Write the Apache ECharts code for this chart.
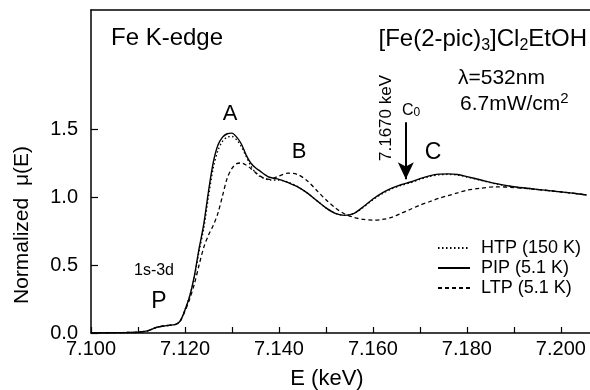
<!doctype html>
<html lang="en">
<head>
<meta charset="UTF-8">
<script src="https://cdn.jsdelivr.net/npm/echarts@6/dist/echarts.min.js"></script>
<title>Fe K-edge XANES</title>
</head>
<body style="margin:0">
<div id="main" style="width:590px;height:390px;"></div>
<script>
// energies (keV)
var energy = [7.100, 7.104, 7.108, 7.110, 7.112, 7.114, 7.116, 7.118, 7.119, 7.120,
  7.121, 7.122, 7.123, 7.124, 7.125, 7.126, 7.127, 7.128, 7.129, 7.130,
  7.131, 7.132, 7.133, 7.134, 7.135, 7.136, 7.137, 7.138, 7.140, 7.142,
  7.144, 7.146, 7.148, 7.150, 7.152, 7.154, 7.156, 7.158, 7.160, 7.162,
  7.164, 7.166, 7.168, 7.170, 7.172, 7.174, 7.176, 7.178, 7.180, 7.183,
  7.186, 7.190, 7.194, 7.198, 7.202, 7.2055];
var htp = [0.000, 0.002, 0.004, 0.006, 0.016, 0.042, 0.054, 0.064, 0.09, 0.17,
  0.27, 0.41, 0.60, 0.77, 1.00, 1.21, 1.34, 1.41, 1.44, 1.445,
  1.42, 1.37, 1.30, 1.23, 1.18, 1.15, 1.135, 1.125, 1.125, 1.108,
  1.076, 1.03, 0.975, 0.92, 0.88, 0.865, 0.88, 0.925, 0.98, 1.025,
  1.06, 1.085, 1.105, 1.13, 1.15, 1.163, 1.166, 1.161, 1.147, 1.122,
  1.098, 1.074, 1.058, 1.044, 1.029, 1.015];
var pip = [0.000, 0.002, 0.004, 0.006, 0.016, 0.042, 0.054, 0.064, 0.09, 0.17,
  0.27, 0.42, 0.62, 0.80, 1.04, 1.25, 1.38, 1.44, 1.465, 1.47,
  1.44, 1.39, 1.31, 1.25, 1.215, 1.19, 1.165, 1.145, 1.13, 1.105,
  1.075, 1.03, 0.975, 0.92, 0.88, 0.865, 0.88, 0.93, 0.985, 1.03,
  1.065, 1.09, 1.11, 1.135, 1.155, 1.168, 1.17, 1.165, 1.15, 1.125,
  1.10, 1.075, 1.06, 1.045, 1.03, 1.015];
var ltp = [0.000, 0.002, 0.004, 0.006, 0.016, 0.042, 0.054, 0.064, 0.09, 0.16,
  0.25, 0.36, 0.50, 0.63, 0.72, 0.79, 0.88, 1.01, 1.14, 1.21,
  1.245, 1.25, 1.235, 1.21, 1.18, 1.155, 1.135, 1.13, 1.155, 1.175,
  1.165, 1.12, 1.05, 0.98, 0.92, 0.875, 0.85, 0.835, 0.83, 0.835,
  0.85, 0.88, 0.91, 0.94, 0.965, 0.99, 1.01, 1.03, 1.05, 1.065,
  1.075, 1.07, 1.058, 1.045, 1.03, 1.015];

var xTicks = [7.10, 7.11, 7.12, 7.13, 7.14, 7.15, 7.16, 7.17, 7.18, 7.19, 7.20];
var xLabels = [7.10, 7.12, 7.14, 7.16, 7.18, 7.20];
var yTicks = [0, 0.5, 1.0, 1.5];
var seriesNames = ['HTP (150 K)', 'PIP (5.1 K)', 'LTP (5.1 K)'];

function pairs(vals) {
  var out = [];
  for (var i = 0; i < energy.length; i++) out.push([energy[i], vals[i]]);
  return out;
}

var font = '"Liberation Sans", Arial, sans-serif';
var myChart = echarts.init(document.getElementById('main'));

function txt(x, y, text, size, extra) {
  var s = {text: text, font: size + 'px ' + font, fill: '#000', align: 'center', verticalAlign: 'middle'};
  if (extra) for (var k in extra) s[k] = extra[k];
  return {type: 'text', x: x, y: y, style: s, silent: true};
}

var option = {
  animation: false,
  backgroundColor: '#fff',
  textStyle: {fontFamily: font, color: '#000'},
  grid: {left: 91, right: 0, top: 10, bottom: 57},
  legend: {
    data: seriesNames,
    orient: 'vertical',
    left: 432,
    top: 234,
    itemWidth: 32,
    itemHeight: 14,
    itemGap: 2,
    itemStyle: {opacity: 0},
    textStyle: {fontSize: 18, color: '#000', padding: [0, 0, 0, 6]}
  },
  xAxis: [{
    type: 'value',
    min: 7.1,
    max: 7.2062,
    position: 'bottom',
    axisLine: {lineStyle: {color: '#000', width: 1.5}},
    axisTick: {inside: true, length: 6, customValues: xTicks, lineStyle: {color: '#000', width: 1.2}},
    axisLabel: {customValues: xLabels, fontSize: 20, color: '#000', margin: 6,
      formatter: function (v) { return v.toFixed(3); }},
    splitLine: {show: false}
  }, {
    type: 'value',
    min: 7.1,
    max: 7.2062,
    position: 'top',
    axisLine: {lineStyle: {color: '#000', width: 1.5}},
    axisTick: {show: false},
    axisLabel: {show: false},
    splitLine: {show: false}
  }],
  yAxis: {
    type: 'value',
    min: 0,
    max: 2.375,
    axisLine: {show: true, lineStyle: {color: '#000', width: 1.5}},
    axisTick: {show: true, inside: true, length: 7, customValues: yTicks, lineStyle: {color: '#000', width: 1.2}},
    axisLabel: {customValues: yTicks, fontSize: 20, color: '#000', margin: 13,
      padding: [0, 0, 13, 0],
      formatter: function (v) { return v.toFixed(1); }},
    splitLine: {show: false}
  },
  series: [{
    name: seriesNames[0],
    type: 'line',
    data: pairs(htp),
    smooth: 0.3,
    symbol: 'none',
    lineStyle: {color: '#000', width: 1.3, type: [1.5, 2.5]},
    itemStyle: {color: '#000'}
  }, {
    name: seriesNames[1],
    type: 'line',
    data: pairs(pip),
    smooth: 0.3,
    symbol: 'none',
    lineStyle: {color: '#000', width: 1.4, type: 'solid'},
    itemStyle: {color: '#000'},
    markLine: {
      silent: true,
      symbol: ['none', 'arrow'],
      symbolSize: [12, 17],
      label: {show: false},
      lineStyle: {color: '#000', width: 2, type: 'solid'},
      data: [[{coord: [7.167, 1.55]}, {coord: [7.167, 1.13]}]]
    }
  }, {
    name: seriesNames[2],
    type: 'line',
    data: pairs(ltp),
    smooth: 0.3,
    symbol: 'none',
    lineStyle: {color: '#000', width: 1.3, type: [4, 3]},
    itemStyle: {color: '#000'}
  }],
  graphic: [
    txt(111, 38, 'Fe K-edge', 24, {align: 'left'}),
    {type: 'text', x: 587, y: 39, silent: true, style: {
      text: '[Fe(2-pic){s|3}]Cl{s|2}EtOH', font: '24px ' + font, fill: '#000',
      align: 'right', verticalAlign: 'middle',
      rich: {s: {fontSize: 16, fontFamily: font, fill: '#000', padding: [13, 0, 0, 0]}}
    }},
    txt(458, 78, 'λ=532nm', 21, {align: 'left'}),
    {type: 'text', x: 460, y: 104, silent: true, style: {
      text: '6.7mW/cm{p|2}', font: '21px ' + font, fill: '#000',
      align: 'left', verticalAlign: 'middle',
      rich: {p: {fontSize: 15, fontFamily: font, fill: '#000', padding: [0, 0, 10, 0]}}
    }},
    {type: 'text', x: 386, y: 118, rotation: Math.PI / 2, silent: true, style: {
      text: '7.1670 keV', font: '17px ' + font, fill: '#000', align: 'center', verticalAlign: 'middle'
    }},
    {type: 'text', x: 411, y: 111, silent: true, style: {
      text: 'C{s|0}', font: '16px ' + font, fill: '#000', align: 'center', verticalAlign: 'middle',
      rich: {s: {fontSize: 12, fontFamily: font, fill: '#000', padding: [3, 0, 0, 0]}}
    }},
    txt(230, 114, 'A', 22),
    txt(299, 152, 'B', 22),
    txt(433, 153, 'C', 23),
    txt(159, 302, 'P', 23),
    txt(154, 271, '1s-3d', 16),
    {type: 'text', x: 22, y: 225, rotation: Math.PI / 2, silent: true, style: {
      text: 'Normalized  μ(E)', font: '21px ' + font, fill: '#000', align: 'center', verticalAlign: 'middle'
    }},
    txt(327, 379, 'E (keV)', 22)
  ]
};

myChart.setOption(option);
</script>
</body>
</html>
